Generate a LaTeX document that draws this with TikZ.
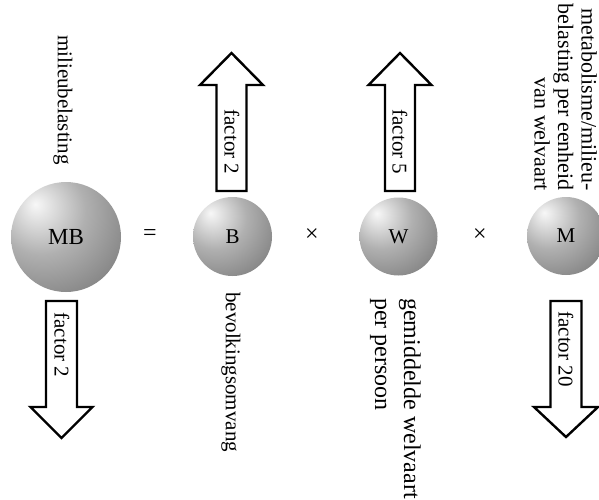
\documentclass[tikz,border=0pt]{standalone}
\usepackage{fontspec}
\setmainfont{Liberation Serif}
% grey ball with its highlight up and to the left
\pgfdeclareradialshading{glassball}{\pgfpoint{-14bp}{15bp}}{%
  color(0bp)=(black!3); color(5bp)=(black!10); color(20bp)=(black!31);
  color(38bp)=(black!47); color(60bp)=(black!50); color(100bp)=(black!50)}
\begin{document}
\begin{tikzpicture}[x=1pt,y=-1pt,
  ball/.style={circle, shading=glassball, inner sep=0pt, font=\fontsize{21}{24}\selectfont},
  blockarrow/.style={draw=black, line width=2.4pt, fill=white, line join=miter},
  vlabel/.style={rotate=-90, inner sep=0pt, font=\fontsize{21}{24}\selectfont},
  op/.style={font=\fontsize{24}{28}\selectfont}]
\useasboundingbox (0,0) rectangle (599,499);

% the four factors of the equation
\node[ball, minimum size=110pt, font=\fontsize{23}{26}\selectfont] (mb) at (66,237) {MB};
\node[ball, minimum size=79pt] (b) at (232.5,236.5) {B};
\node[ball, minimum size=78pt] (w) at (398.5,236.5) {W};
\node[ball, minimum size=78pt] (m) at (566,236) {M};

\node[op] (eq) at (150,235) {=};
\node[op] (t1) at (312,235) {×};
\node[op] (t2) at (480,235) {×};

% block arrows: growth up, reduction down
\draw[blockarrow] (216.5,191) -- (216.5,85) -- (200,85) -- (231.5,53)
  -- (263,85) -- (246.5,85) -- (246.5,191) -- cycle;
\draw[blockarrow] (385,191) -- (385,85) -- (368.5,85) -- (400,53)
  -- (431.5,85) -- (415,85) -- (415,191) -- cycle;
\draw[blockarrow] (46,301) -- (46,407) -- (30.5,407) -- (61.5,438)
  -- (92.5,407) -- (77,407) -- (77,301) -- cycle;
\draw[blockarrow] (550.5,301) -- (550.5,407) -- (534,407) -- (566,437)
  -- (598,407) -- (581.5,407) -- (581.5,301) -- cycle;

\node[vlabel] (f1) at (232,142) {factor 2};
\node[vlabel] (f2) at (400,142) {factor 5};
\node[vlabel] (f3) at (62,345) {factor 2};
\node[vlabel] (f4) at (566,349) {factor 20};

% captions
\node[vlabel] (lmb) at (63,100) {milieubelasting};
\node[vlabel, anchor=west] (lb) at (231,292) {bevolkingsomvang};
\node[vlabel, font=\fontsize{24}{29}\selectfont, align=left, anchor=north west]
  (lw) at (421,298) {gemiddelde welvaart\\per persoon};
\node[vlabel, font=\fontsize{22}{23.5}\selectfont, align=right, anchor=north east]
  (lm) at (597,191) {metabolisme/milieu-\\belasting per eenheid\\van welvaart};
\end{tikzpicture}
\end{document}
